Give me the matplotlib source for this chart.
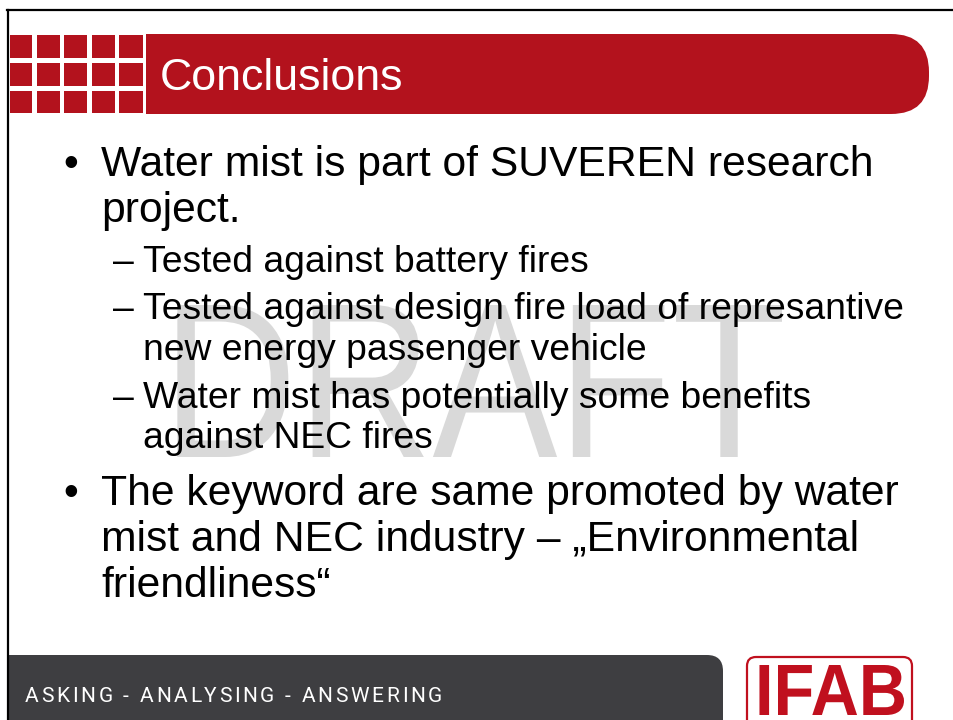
import matplotlib
matplotlib.use("Agg")
from matplotlib import pyplot as plt
from matplotlib.patches import Rectangle, FancyBboxPatch, PathPatch
from matplotlib.textpath import TextPath
from matplotlib.font_manager import FontProperties, findfont, get_font
from matplotlib.transforms import Affine2D

# slide content
title = "Conclusions"
bullet1 = ["Water mist is part of SUVEREN research", "project."]
sub_items = [
    ["Tested against battery fires"],
    ["Tested against design fire load of represantive", "new energy passenger vehicle"],
    ["Water mist has potentially some benefits", "against NEC fires"],
]
bullet2 = ["The keyword are same promoted by water",
           "mist and NEC industry \u2013 \u201eEnvironmental",
           "friendliness\u201c"]
watermark = "DRAFT"
footer = "ASKING - ANALYSING - ANSWERING"
logo = "IFAB"

RED = "#b3121d"
DARK = "#3e3e41"
LOGO_RED = "#c0101e"
FONT = "Liberation Sans"

W, H = 954, 720
fig = plt.figure(figsize=(W / 100, H / 100), dpi=100)
ax = fig.add_axes([0, 0, 1, 1])
ax.set_xlim(0, W)
ax.set_ylim(H, 0)
ax.axis("off")


def fit_text(s, x0, x1, ytop, ybase, color, weight="normal", family=FONT, z=1):
    # text outline stretched so its ink box fills x0..x1 / ytop..ybase
    tp = TextPath((0, 0), s, size=100, prop=FontProperties(family=family, weight=weight))
    v = tp.vertices
    xmin, xmax = v[:, 0].min(), v[:, 0].max()
    ymax = v[:, 1].max()
    sx = (x1 - x0) / (xmax - xmin)
    sy = (ybase - ytop) / ymax
    tr = Affine2D().translate(-xmin, 0).scale(sx, -sy).translate(x0, ybase)
    ax.add_patch(PathPatch(tp, transform=tr + ax.transData, fc=color, ec="none", zorder=z))


# frame
ax.plot([7, W], [10, 10], color="black", lw=1.6, zorder=5)
ax.plot([8, 8], [10, H], color="black", lw=1.6, zorder=5)

# header: grid of squares + red bar
cols = [(10, 32), (37, 60), (64, 87), (92, 115), (119, 143)]
rows = [(35, 58), (63, 86), (91, 113)]
for c0, c1 in cols:
    for r0, r1 in rows:
        ax.add_patch(Rectangle((c0, r0), c1 - c0, r1 - r0, fc=RED, ec="none"))
ax.add_patch(FancyBboxPatch((146, 34), 929 - 146, 80, boxstyle="round,pad=0,rounding_size=38",
                            fc=RED, ec="none"))
ax.add_patch(Rectangle((146, 34), 700, 80, fc=RED, ec="none"))
ax.text(160, 90, title, color="white", fontsize=32.2, family=FONT, va="baseline", zorder=3)

# watermark
fit_text(watermark, 162, 782, 305, 457, "#d9d9d9", z=1)

# body text
fs_main, fs_sub = 30.7, 26.8
kw = dict(family=FONT, color="black", va="baseline", zorder=3)
ax.text(63, 176, "\u2022", fontsize=fs_main, **kw)
for line, y in zip(bullet1, [176, 222]):
    ax.text(101, y, line, fontsize=fs_main, **kw)

sub_y = [[272], [319, 360], [408, 448]]
for item, ys in zip(sub_items, sub_y):
    ax.text(113, ys[0], "\u2013", fontsize=fs_sub, **kw)
    for line, y in zip(item, ys):
        ax.text(143, y, line, fontsize=fs_sub, **kw)

ax.text(63, 505, "\u2022", fontsize=fs_main, **kw)
for line, y in zip(bullet2, [505, 551, 597]):
    ax.text(101, y, line, fontsize=fs_main, **kw)

# footer bar
ax.add_patch(FancyBboxPatch((9, 655), 723 - 9, 120, boxstyle="round,pad=0,rounding_size=16",
                            fc=DARK, ec="none", zorder=2))
ax.add_patch(Rectangle((9, 655), 650, 120, fc=DARK, ec="none", zorder=2))

# letter-spaced footer text
fprop = FontProperties(family="Roboto", size=15)
ft = get_font(findfont(fprop))
ft.set_size(15, 100)
adv = []
for ch in footer:
    g = ft.load_char(ord(ch))
    adv.append(g.linearHoriAdvance / 65536)
track = (442 - 25 - sum(adv)) / (len(footer) - 1)
x = 25
for ch, a in zip(footer, adv):
    ax.text(x, 702, ch, fontproperties=fprop, color="white", va="baseline", zorder=3)
    x += a + track

# logo
ax.add_patch(FancyBboxPatch((747, 657), 912 - 747, 75, boxstyle="round,pad=0,rounding_size=9",
                            fc="white", ec=LOGO_RED, lw=1.6, zorder=2))
fit_text(logo, 755, 904, 665, 715, LOGO_RED, weight="bold", z=3)

fig.savefig("out.png", dpi=100)
